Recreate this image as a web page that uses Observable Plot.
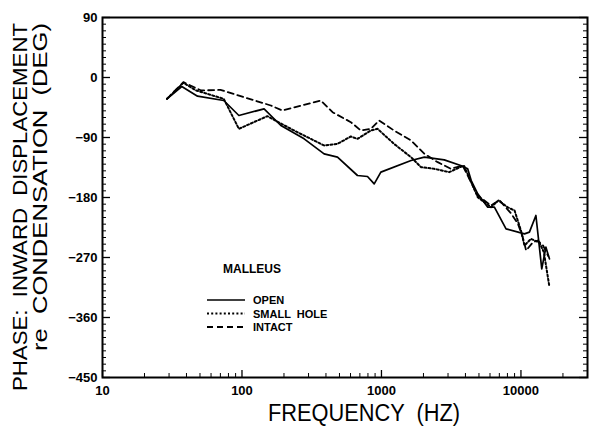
<!DOCTYPE html>
<html><head><meta charset="utf-8">
<script src="https://cdn.jsdelivr.net/npm/d3@7"></script>
<script src="https://cdn.jsdelivr.net/npm/@observablehq/plot@0.6"></script>
<style>body{margin:0;background:#fff}#chart{width:600px;height:436px}</style>
</head><body><div id="chart"></div>
<script>
// ---- data ----
const seriesNames = ["OPEN", "SMALL HOLE", "INTACT"];

const openFreq  = [29, 37, 48, 74, 95, 144, 190, 279, 388, 484, 673, 794, 887, 990, 1630, 2030, 2820, 3700, 4150, 4400, 4900, 5780, 6450, 7820, 10600, 11500, 12800, 14100, 15100, 16000];
const openPhase = [-32, -13.5, -28, -34.5, -57, -47, -72, -92, -114.5, -119.5, -147, -148.5, -159.5, -142, -124.5, -119.5, -123.5, -132, -137, -154.5, -174.5, -194.5, -194.5, -227, -234.5, -232, -207, -287, -254.5, -272];

const smallFreq  = [29, 38, 47, 74, 95, 152, 236, 388, 484, 603, 673, 839, 937, 1230, 1630, 1920, 2390, 3060, 3900, 4900, 6100, 6900, 8000, 9000, 10000, 10600, 11800, 13600, 14600, 16000];
const smallPhase = [-32, -8, -19.5, -32, -77, -58, -79.5, -102, -99.5, -88.5, -92, -79.5, -77, -99.5, -119.5, -134.5, -137, -142, -132, -179.5, -194.5, -184.5, -194.5, -199.5, -229.5, -252, -242, -248, -262, -314];

const intactFreq  = [29, 38, 51, 70, 161, 195, 367, 446, 603, 711, 839, 962, 1230, 1630, 2030, 2530, 3150, 3820, 4900, 6100, 7000, 8500, 9500, 10300, 10900, 12200, 13200, 14400, 15700];
const intactPhase = [-32, -7, -19.5, -18.5, -42, -49.5, -34.5, -52, -67, -79.5, -77, -64.5, -79.5, -94.5, -114.5, -127, -137, -132, -177, -192, -184, -204, -219, -239.5, -259.5, -247, -244.5, -252, -268];

const yMajorTicks = [90, 0, -90, -180, -270, -360, -450];
const xTickLabels = [10, 100, 1000, 10000];
const xMinorTicks = [20,30,40,50,60,70,80,90,200,300,400,500,600,700,800,900,2000,3000,4000,5000,6000,7000,8000,9000,20000];

const legendTitle = "MALLEUS";
const yTitle1 = "PHASE:  INWARD  DISPLACEMENT";
const yTitle2 = "re  CONDENSATION  (DEG)";
const xTitle = "FREQUENCY  (HZ)";

// ---- build ----
const rows = (fr, ph) => fr.map((f, i) => ({f, p: ph[i]}));
const openRows = rows(openFreq, openPhase);
const smallRows = rows(smallFreq, smallPhase);
const intactRows = rows(intactFreq, intactPhase);
const yMinorTicks = d3.range(-450, 91, 10).filter(v => v % 90 !== 0);

const W = 600, H = 436, mL = 102, mR = 13, mT = 17, mB = 59;
const pw = W - mL - mR, ph = H - mT - mB;
const styles = {
  open:   {dash: null, width: 1.7},
  small:  {dash: "2,2.2", width: 2},
  intact: {dash: "6,4", width: 1.8}
};
const fmt = d => d < 0 ? "\u2212" + Math.abs(d) : String(d);

const svg = Plot.plot({
  width: W, height: H, marginLeft: mL, marginRight: mR, marginTop: mT, marginBottom: mB,
  x: {type: "log", domain: [10, 30000]},
  y: {domain: [-450, 90]},
  style: {fontFamily: "'Liberation Sans', Arial, sans-serif", fontSize: "13px", fontWeight: "bold", color: "#000", background: "#fff"},
  marks: [
    Plot.tickY(yMinorTicks, {y: d => d, insetRight: pw - 4, stroke: "#000"}),
    Plot.tickY(yMinorTicks, {y: d => d, insetLeft: pw - 4, stroke: "#000"}),
    Plot.tickY(yMajorTicks, {y: d => d, insetRight: pw - 8, stroke: "#000", strokeWidth: 1.3}),
    Plot.tickY(yMajorTicks, {y: d => d, insetLeft: pw - 8, stroke: "#000", strokeWidth: 1.3}),
    Plot.tickX(xMinorTicks, {x: d => d, insetTop: ph - 4, stroke: "#000"}),
    Plot.tickX(xTickLabels, {x: d => d, insetTop: ph - 7, stroke: "#000", strokeWidth: 1.3}),
    Plot.axisY(yMajorTicks, {tickSize: 0, tickPadding: 5, label: null, tickFormat: fmt}),
    Plot.axisX(xTickLabels, {tickSize: 0, tickPadding: 8, label: null, tickFormat: d => String(d)}),
    Plot.line(openRows, {x: "f", y: "p", stroke: "#000", strokeWidth: styles.open.width}),
    Plot.line(smallRows, {x: "f", y: "p", stroke: "#000", strokeWidth: styles.small.width, strokeDasharray: styles.small.dash}),
    Plot.line(intactRows, {x: "f", y: "p", stroke: "#000", strokeWidth: styles.intact.width, strokeDasharray: styles.intact.dash}),
    Plot.frame({stroke: "#000", strokeWidth: 2})
  ]
});
document.getElementById("chart").appendChild(svg);

const s = d3.select(svg);
const font = "'Liberation Sans', Arial, sans-serif";
// axis titles
s.append("text").attr("transform", "translate(27,23) rotate(-90)")
  .attr("text-anchor", "end").attr("font-family", font).attr("font-size", 21)
  .attr("font-weight", "normal").attr("fill", "#000")
  .attr("textLength", 368).attr("lengthAdjust", "spacingAndGlyphs").text(yTitle1);
s.append("text").attr("transform", "translate(47,23) rotate(-90)")
  .attr("text-anchor", "end").attr("font-family", font).attr("font-size", 21)
  .attr("font-weight", "normal").attr("fill", "#000")
  .attr("textLength", 328).attr("lengthAdjust", "spacingAndGlyphs").text(yTitle2);
s.append("text").attr("x", 268).attr("y", 421).attr("text-anchor", "start")
  .attr("font-family", font).attr("font-size", 23).attr("font-weight", "normal").attr("fill", "#000")
  .attr("textLength", 192).attr("lengthAdjust", "spacingAndGlyphs").text(xTitle);

// legend
const lg = s.append("g").attr("font-family", font).attr("font-size", 11).attr("font-weight", "bold")
  .attr("fill", "#000").attr("text-anchor", "start");
lg.append("text").attr("x", 223).attr("y", 273).attr("font-size", 12).attr("text-anchor", "start").text(legendTitle);
const legendY = [300, 313.5, 327];
const legendStyle = [styles.open, styles.small, styles.intact];
seriesNames.forEach((name, i) => {
  lg.append("line").attr("x1", 207).attr("x2", 245).attr("y1", legendY[i]).attr("y2", legendY[i])
    .attr("stroke", "#000").attr("stroke-width", legendStyle[i].width)
    .attr("stroke-dasharray", legendStyle[i].dash);
  lg.append("text").attr("x", 253).attr("y", legendY[i] + 4).attr("text-anchor", "start")
    .style("white-space", "pre").text(name.replace(" ", "  "));
});
</script>
</body></html>
